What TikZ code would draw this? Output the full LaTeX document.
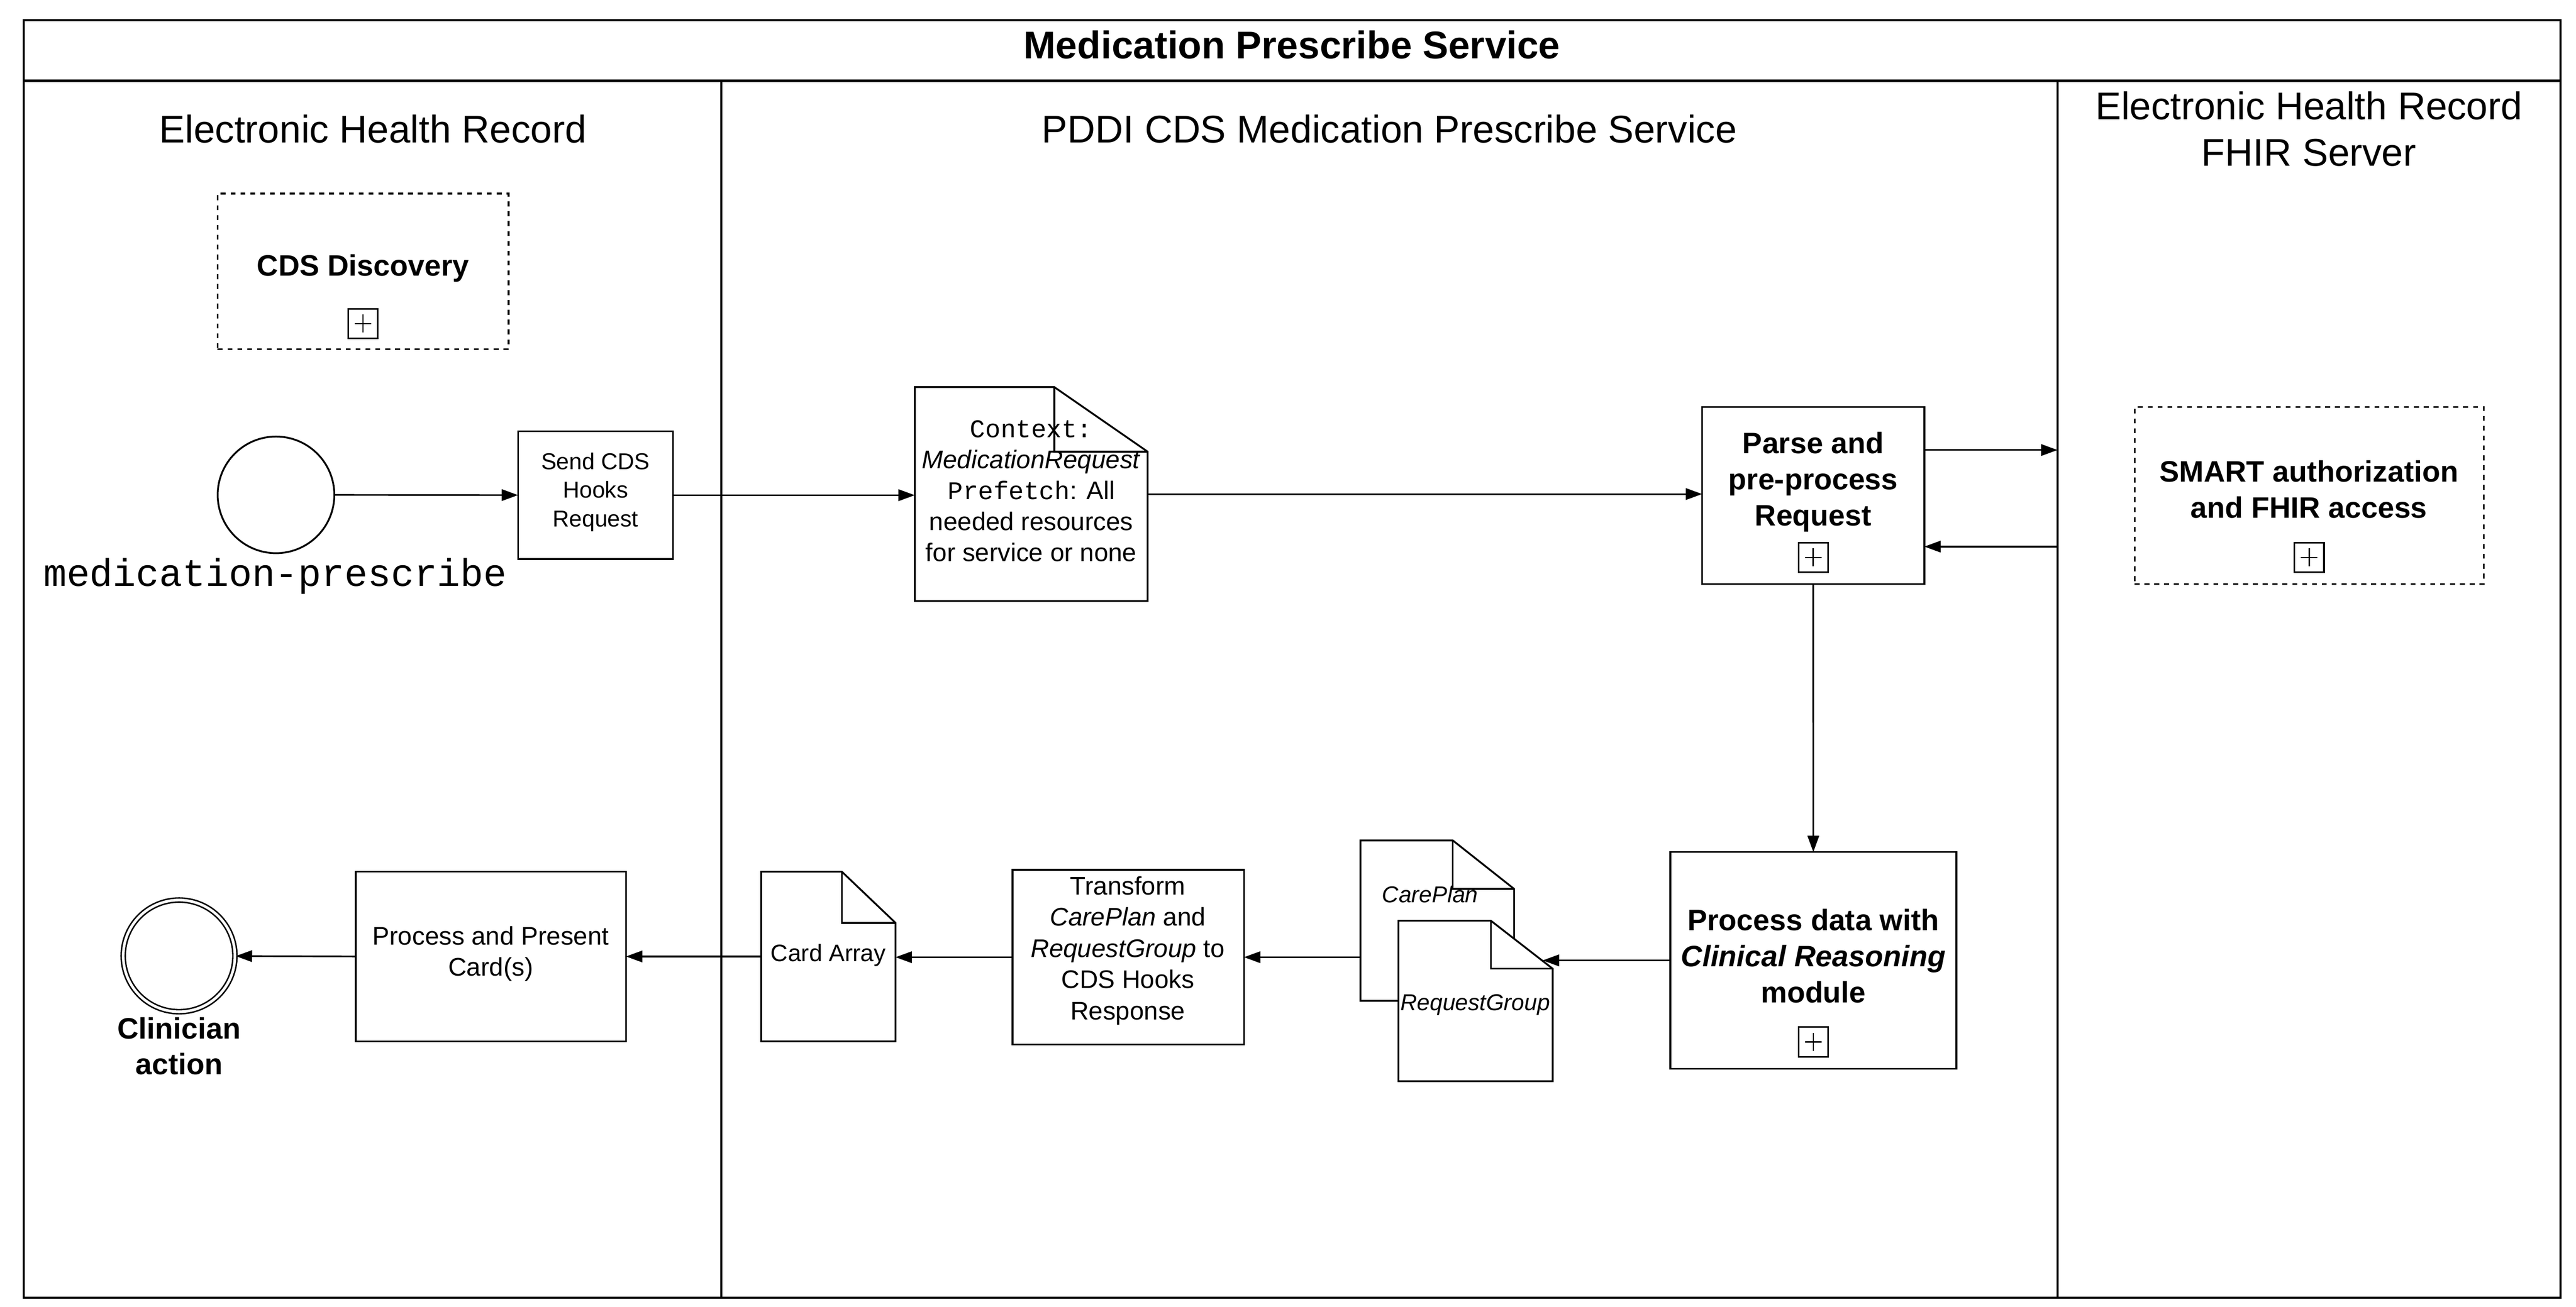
\documentclass[tikz,border=0pt]{standalone}
\usepackage{fontspec}
\setmainfont{Liberation Sans}
\setsansfont{Liberation Sans}
\setmonofont{Liberation Mono}
\usetikzlibrary{arrows.meta}
\newcommand\myfs[2]{\fontsize{#1}{#2}\selectfont}
\begin{document}
\begin{tikzpicture}[x=1pt,y=-1pt,
  frameline/.style={line width=1.3pt},
  laneline/.style={line width=1.1pt},
  conn/.style={line width=1pt,-{Triangle[length=10pt,width=7pt]}},
  taskbox/.style={draw,line width=1.1pt,inner sep=0pt,outer sep=0pt,align=center},
  dashbox/.style={draw,line width=1pt,dash pattern=on 3pt off 3pt,inner sep=0pt,outer sep=0pt},
  docnode/.style={inner sep=0pt,outer sep=0pt,align=center},
  docline/.style={line width=1.1pt,line join=miter},
  plusicon/.style={draw,line width=1pt,minimum size=18pt,inner sep=0pt,outer sep=0pt,
    path picture={\draw[line width=0.8pt]
      ([xshift=-5pt]path picture bounding box.center) -- ([xshift=5pt]path picture bounding box.center)
      ([yshift=-5.5pt]path picture bounding box.center) -- ([yshift=5.5pt]path picture bounding box.center);}},
  hdr/.style={font=\myfs{23.5}{28.3}\selectfont,align=center},
  boldtxt/.style={font=\bfseries\myfs{18}{22}\selectfont,align=center},
]
\useasboundingbox (0,0) rectangle (1568,795.47);
\fill[white] (0,0) rectangle (1568,795.47);

% pool and lanes
\draw[frameline] (14.5,12.3) rectangle (1558.5,790);
\draw[frameline] (14.5,49.2) -- (1558.5,49.2);
\draw[laneline] (439,49.2) -- (439,790);
\draw[laneline] (1252.4,49.2) -- (1252.4,790);

\node[font=\bfseries\myfs{23.5}{28}\selectfont] (title) at (786.4,27.3) {Medication Prescribe Service};
\node[hdr] (lane1) at (227,78.4) {Electronic Health Record};
\node[hdr] (lane2) at (845.7,78.4) {PDDI CDS Medication Prescribe Service};
\node[hdr] (lane3) at (1405.4,78.6) {Electronic Health Record\\FHIR Server};

% CDS Discovery
\node[dashbox,minimum width=177.1pt,minimum height=94.7pt] (cdsd) at (221,165.2) {};
\node[boldtxt] (cdsdt) at (221,163.3) {CDS Discovery};
\node[plusicon] (cdsdp) at (221,197) {};

% start event
\node[circle,draw,line width=1.1pt,minimum size=71pt,inner sep=0pt,outer sep=0pt] (start) at (168,301.3) {};
\node[font=\ttfamily\myfs{23.5}{28}\selectfont,anchor=base] (startlbl) at (167.5,357) {medication-prescribe};

% send request
\node[taskbox,minimum width=94.3pt,minimum height=77.7pt] (send) at (362.5,301.5) {};
\node[font=\myfs{14}{17.5}\selectfont,align=center] (sendt) at (362.5,299.6) {Send CDS\\Hooks\\Request};

% context document
\node[docnode,minimum width=141.7pt,minimum height=130.3pt] (ctx) at (627.7,300.8) {};
\draw[docline] (ctx.north west) -- (641.7,235.65) -- (ctx.east |- 0,275) -- (ctx.south east) -- (ctx.south west) -- cycle;
\draw[docline] (641.7,235.65) -- (641.7,275) -- (ctx.east |- 0,275);
\node[font=\myfs{15.5}{18.8}\selectfont,align=center] (ctxt) at (627.7,299)
  {\texttt{Context:}\\\textit{MedicationRequest}\\\texttt{Prefetch}: All\\needed resources\\for service or none};

% parse
\node[taskbox,minimum width=135.2pt,minimum height=107.7pt] (parse) at (1103.7,301.7) {};
\node[boldtxt] (parset) at (1103.7,293.6) {Parse and\\pre-process\\Request};
\node[plusicon] (parsep) at (1103.7,339.4) {};

% SMART
\node[dashbox,minimum width=212.6pt,minimum height=107.8pt] (smart) at (1405.6,301.7) {};
\node[boldtxt] (smartt) at (1405.4,297.8) {SMART authorization\\and FHIR access};
\node[plusicon] (smartp) at (1405.6,339.4) {};

% process data
\node[taskbox,minimum width=174.1pt,minimum height=131.9pt] (proc) at (1103.75,584.75) {};
\node[boldtxt] (proct) at (1103.75,582) {Process data with\\\textit{Clinical Reasoning}\\module};
\node[plusicon] (procp) at (1103.75,634.4) {};

% CarePlan document
\node[docnode,minimum width=93.5pt,minimum height=97.7pt] (cp) at (874.85,560.55) {};
\draw[docline,fill=white] (cp.north west) -- (884.3,511.7) -- (cp.east |- 0,541.2) -- (cp.south east) -- (cp.south west) -- cycle;
\draw[docline] (884.3,511.7) -- (884.3,541.2) -- (cp.east |- 0,541.2);
\node[font=\itshape\myfs{14}{17}\selectfont] (cpt) at (870.5,544.5) {CarePlan};

% RequestGroup document
\node[docnode,minimum width=93.9pt,minimum height=97.7pt] (rg) at (898.15,609.45) {};
\draw[docline,fill=white] (rg.north west) -- (907.5,560.6) -- (rg.east |- 0,589.8) -- (rg.south east) -- (rg.south west) -- cycle;
\draw[docline] (907.5,560.6) -- (907.5,589.8) -- (rg.east |- 0,589.8);
\node[font=\itshape\myfs{14}{17}\selectfont] (rgt) at (898,611.8) {RequestGroup};
\coordinate (rgin) at (939,584.75);

% transform
\node[taskbox,minimum width=140.9pt,minimum height=106.4pt] (tr) at (686.75,582.8) {};
\node[font=\myfs{15.5}{19}\selectfont,align=center] (trt) at (686.5,578.8)
  {Transform\\\textit{CarePlan} and\\\textit{RequestGroup} to\\CDS Hooks\\Response};

% card array document
\node[docnode,minimum width=81.8pt,minimum height=103.3pt] (card) at (504.2,582.35) {};
\draw[docline] (card.north west) -- (512.4,530.7) -- (card.east |- 0,561.9) -- (card.south east) -- (card.south west) -- cycle;
\draw[docline] (512.4,530.7) -- (512.4,561.9) -- (card.east |- 0,561.9);
\node[font=\myfs{14.5}{17}\selectfont] (cardt) at (504.2,581.5) {Card Array};

% process and present
\node[taskbox,minimum width=164.5pt,minimum height=103.3pt] (present) at (298.75,582.35) {};
\node[font=\myfs{15.5}{18.8}\selectfont,align=center] (presentt) at (298.75,580.8) {Process and Present\\Card(s)};

% end event
\node[circle,draw,line width=0.9pt,double,double distance=1.6pt,minimum size=68pt,inner sep=0pt] (end) at (109,582) {};
\node[font=\bfseries\myfs{18}{21.6}\selectfont,align=center] (endlbl) at (109,637) {Clinician\\action};

% FHIR lane boundary coordinates
\coordinate (fhirin) at (1252.4,274);
\coordinate (fhirout) at (1252.4,332.8);

% connectors
\draw[conn] (start) -- (send);
\draw[conn] (send.east) -- (send.east -| ctx.west);
\draw[conn] (ctx.east) -- (ctx.east -| parse.west);
\draw[conn] (parse.east |- fhirin) -- (fhirin);
\draw[conn] (fhirout) -- (fhirout -| parse.east);
\draw[conn] (parse.south) -- (proc.north);
\draw[conn] (proc.west) -- (rgin);
\draw[conn] (tr.east -| cp.west) -- (tr.east);
\draw[conn] (tr.west) -- (tr.west -| card.east);
\draw[conn] (card.west) -- (card.west -| present.east);
\draw[conn] (present.west) -- (end);
\end{tikzpicture}
\end{document}
